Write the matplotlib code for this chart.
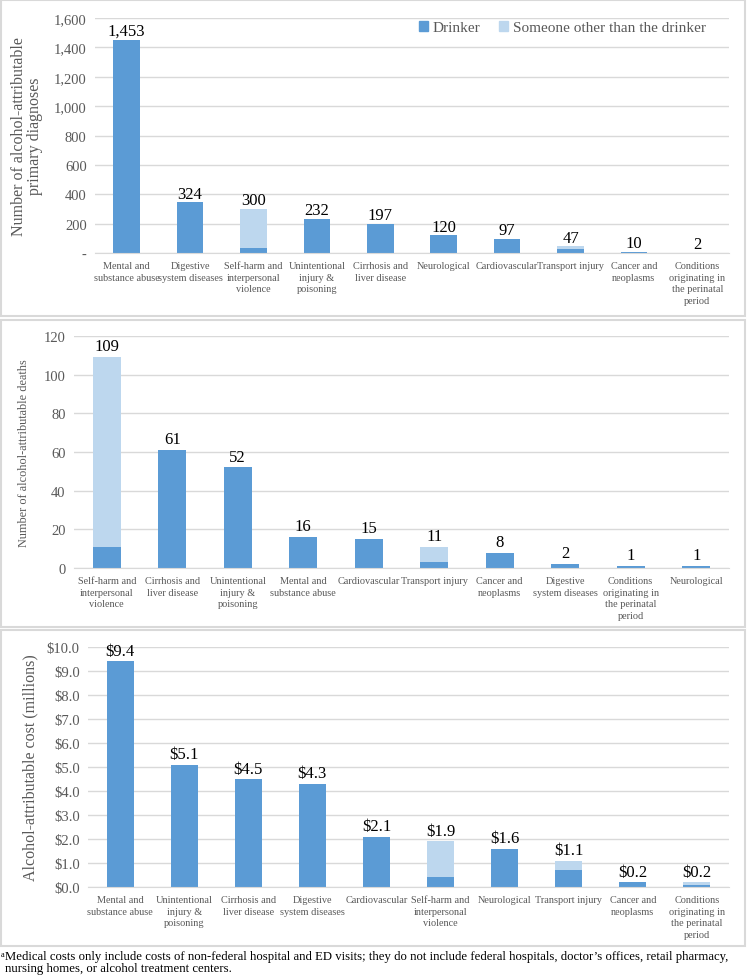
import matplotlib
matplotlib.use("Agg")
import matplotlib.pyplot as plt
from matplotlib.patches import Rectangle, Patch
from matplotlib.ticker import FuncFormatter

plt.rcParams['font.family'] = ['Liberation Serif', 'DejaVu Serif']

DRINKER = '#5B9BD5'
OTHER = '#BDD7EE'
GRID = '#D9D9D9'
TICKC = '#595959'

# panel 1: primary diagnoses
diag_cats = ["Mental and\nsubstance abuse", "Digestive\nsystem diseases", "Self-harm and\ninterpersonal\nviolence",
             "Unintentional\ninjury &\npoisoning", "Cirrhosis and\nliver disease", "Neurological",
             "Cardiovascular", "Transport injury", "Cancer and\nneoplasms",
             "Conditions\noriginating in\nthe perinatal\nperiod"]
diag_drinker = [1453, 345, 33, 232, 197, 120, 97, 30, 10, 1]
diag_other = [0, 0, 267, 0, 0, 0, 0, 16, 0, 1]
diag_labels = ["1,453", "324", "300", "232", "197", "120", "97", "47", "10", "2"]

# panel 2: deaths
death_cats = ["Self-harm and\ninterpersonal\nviolence", "Cirrhosis and\nliver disease",
              "Unintentional\ninjury &\npoisoning", "Mental and\nsubstance abuse", "Cardiovascular",
              "Transport injury", "Cancer and\nneoplasms", "Digestive\nsystem diseases",
              "Conditions\noriginating in\nthe perinatal\nperiod", "Neurological"]
death_drinker = [11, 61, 52, 16, 15, 3, 8, 2, 1, 1]
death_other = [98, 0, 0, 0, 0, 8, 0, 0, 0, 0]
death_labels = ["109", "61", "52", "16", "15", "11", "8", "2", "1", "1"]

# panel 3: cost (millions)
cost_cats = ["Mental and\nsubstance abuse", "Unintentional\ninjury &\npoisoning", "Cirrhosis and\nliver disease",
             "Digestive\nsystem diseases", "Cardiovascular", "Self-harm and\ninterpersonal\nviolence",
             "Neurological", "Transport injury", "Cancer and\nneoplasms",
             "Conditions\noriginating in\nthe perinatal\nperiod"]
cost_drinker = [9.4, 5.1, 4.5, 4.3, 2.1, 0.4, 1.6, 0.7, 0.2, 0.1]
cost_other = [0, 0, 0, 0, 0, 1.5, 0, 0.4, 0, 0.1]
cost_labels = ["$9.4", "$5.1", "$4.5", "$4.3", "$2.1", "$1.9", "$1.6", "$1.1", "$0.2", "$0.2"]

W, H = 747, 978
fig = plt.figure(figsize=(W / 100, H / 100), dpi=100)


def px_axes(left, top, right, bottom):
    return fig.add_axes([left / W, 1 - bottom / H, (right - left) / W, (bottom - top) / H])


def panel_box(top, bottom):
    fig.patches.append(Rectangle((1 / W, 1 - bottom / H), (W - 3) / W, (bottom - top) / H,
                                 transform=fig.transFigure, fill=False, edgecolor=GRID, lw=1.5))


def draw_panel(ax, cats, drinker, other, labels, ymax, step, fmt, pad):
    x = range(len(cats))
    ax.bar(x, drinker, width=0.42, color=DRINKER, zorder=2)
    ax.bar(x, other, width=0.42, bottom=drinker, color=OTHER, zorder=2)
    for i in x:
        ax.text(i, drinker[i] + other[i] + pad, labels[i], ha='center', va='bottom', fontsize=12)
    ax.set_xlim(-0.5, len(cats) - 0.5)
    ax.set_ylim(0, ymax)
    ax.set_yticks([step * k for k in range(int(round(ymax / step)) + 1)])
    ax.yaxis.set_major_formatter(FuncFormatter(fmt))
    ax.set_xticks(list(x))
    ax.set_xticklabels(cats, fontsize=7.4, color=TICKC, linespacing=1.35)
    ax.tick_params(axis='both', length=0, pad=6)
    ax.tick_params(axis='y', labelsize=10.5, labelcolor=TICKC)
    ax.grid(axis='y', color=GRID, lw=1, zorder=0)
    for s in ['top', 'right', 'left']:
        ax.spines[s].set_visible(False)
    ax.spines['bottom'].set_color(GRID)


panel_box(1, 317)
ax1 = px_axes(95, 19, 729, 254)
draw_panel(ax1, diag_cats, diag_drinker, diag_other, diag_labels, 1600, 200,
           lambda v, p: '-' if v == 0 else f'{int(v):,}', 5)
ax1.set_ylabel("Number of alcohol-attributable\nprimary diagnoses", fontsize=11.5, color=TICKC,
               linespacing=1.0, labelpad=8)
ax1.legend(handles=[Patch(color=DRINKER, label='Drinker'),
                    Patch(color=OTHER, label='Someone other than the drinker')],
           loc='upper right', ncol=2, frameon=False, fontsize=11, handlelength=0.6, handleheight=0.6,
           handletextpad=0.3, columnspacing=1.2, bbox_to_anchor=(0.985, 1.045), labelcolor=TICKC)

panel_box(321, 628)
ax2 = px_axes(74, 337, 729, 569)
draw_panel(ax2, death_cats, death_drinker, death_other, death_labels, 120, 20,
           lambda v, p: f'{int(v)}', 1.5)
ax2.set_ylabel("Number of alcohol-attributable deaths", fontsize=8.8, color=TICKC, labelpad=10)

panel_box(631, 947)
ax3 = px_axes(88, 648, 729, 888)
draw_panel(ax3, cost_cats, cost_drinker, cost_other, cost_labels, 10, 1,
           lambda v, p: f'${v:.1f}', 0.1)
ax3.set_ylabel("Alcohol-attributable cost (millions)", fontsize=11.5, color=TICKC, labelpad=6)

fig.text(1 / W, 1 - 951 / H, "a", fontsize=6, va='top')
fig.text(5 / W, 1 - 951 / H,
         "Medical costs only include costs of non-federal hospital and ED visits; they do not include federal hospitals, doctor\u2019s offices, retail pharmacy,\nnursing homes, or alcohol treatment centers.",
         fontsize=9.15, va='top', linespacing=1.05)

fig.savefig("out.png", dpi=100)
